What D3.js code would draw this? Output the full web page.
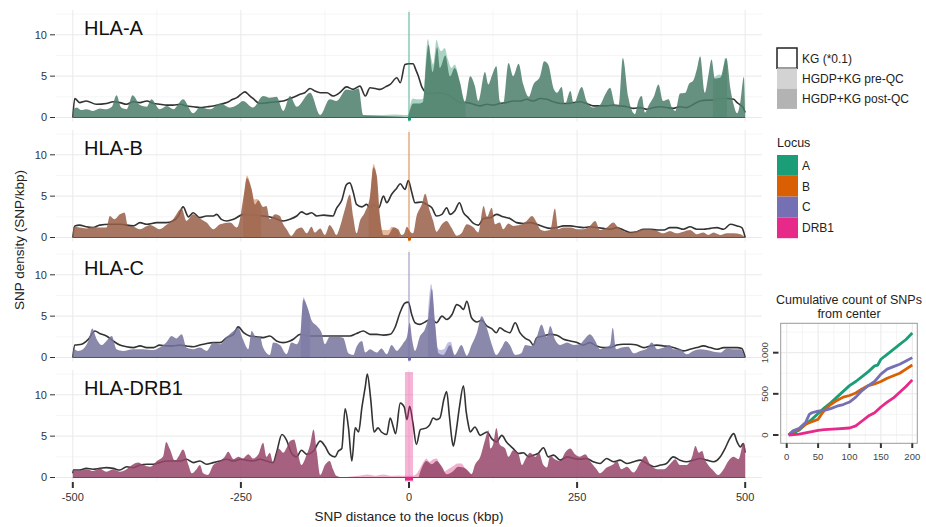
<!DOCTYPE html>
<html><head><meta charset="utf-8">
<script src="https://cdn.jsdelivr.net/npm/d3@7"></script>
<style>
body{margin:0;background:#fff;}
svg{display:block;font-family:"Liberation Sans",Arial,sans-serif;}
</style></head>
<body><svg id="c" width="926" height="527"></svg>
<script>
// ---------- data ----------
const loci = ["A", "B", "C", "DRB1"];
const panelTitles = ["HLA-A", "HLA-B", "HLA-C", "HLA-DRB1"];
const locusColors = ["#1B9E77", "#D95F02", "#7570B3", "#E7298A"];
const geneSpans = [[-1.5, 1.5], [-1.5, 1.5], [-1.5, 1.5], [-6, 6]];
const xTicks = [-500, -250, 0, 250, 500];
const yTicks = [0, 5, 10];

// KG (*0.1) density lines  [kbp, SNP/kbp]
const kgA = [[-500,0],[-497,2.3],[-490,1.8],[-480,2.0],[-465,1.6],[-450,1.7],[-440,1.9],[-430,1.8],[-420,1.6],[-410,1.9],[-400,1.8],[-390,2.0],[-380,1.7],[-371,1.6],[-360,1.5],[-351,1.5],[-340,1.6],[-331,1.4],[-320,1.3],[-311,1.2],[-300,1.3],[-291,1.4],[-280,1.6],[-271,1.8],[-262,2.2],[-256,2.4],[-250,2.8],[-244,3.1],[-238,2.7],[-232,2.3],[-222,1.7],[-210,1.8],[-197,1.9],[-187,2.0],[-177,2.3],[-170,2.5],[-162,2.8],[-155,3.0],[-147,3.5],[-140,3.2],[-132,3.0],[-122,3.0],[-113,2.6],[-103,3.0],[-93,3.7],[-83,3.4],[-73,3.8],[-65,2.6],[-58,3.6],[-50,3.5],[-43,3.4],[-35,3.7],[-28,4.0],[-18,4.8],[-13,4.2],[-6,6.4],[0,6.5],[6,6.5],[10,5.8],[14,5.0],[19,3.7],[26,3.0],[31,2.9],[36,2.9],[46,3.0],[56,2.8],[66,2.3],[76,1.8],[86,1.8],[96,1.6],[106,1.4],[116,1.6],[125,1.5],[135,1.7],[145,1.8],[155,2.0],[165,2.0],[175,2.2],[185,2.0],[195,2.3],[205,2.2],[215,1.9],[225,1.7],[235,1.7],[245,1.8],[254,1.9],[264,1.7],[274,1.4],[284,1.4],[294,1.4],[304,1.5],[314,1.4],[324,1.3],[334,1.1],[344,1.2],[354,1.0],[364,1.2],[374,1.3],[383,1.2],[393,1.1],[403,1.3],[413,1.2],[423,1.6],[433,2.0],[443,2.1],[453,2.1],[463,2.3],[473,2.3],[483,2.2],[488,1.8],[493,1.5],[497,1.2],[500,0.6]];
const kgB = [[-500,0],[-497,1.4],[-490,1.5],[-480,1.3],[-470,1.2],[-460,1.5],[-445,1.6],[-430,1.6],[-410,1.4],[-400,1.8],[-390,1.6],[-375,1.8],[-361,1.8],[-351,2.0],[-343,2.6],[-336,3.7],[-328,2.5],[-321,3.0],[-311,2.4],[-301,2.6],[-291,2.6],[-286,2.8],[-279,2.2],[-271,2.0],[-261,2.2],[-246,2.8],[-232,2.7],[-217,2.6],[-202,2.4],[-187,2.0],[-177,2.2],[-167,2.6],[-160,3.1],[-152,2.8],[-145,3.0],[-137,2.6],[-127,2.7],[-113,2.6],[-108,3.5],[-100,4.5],[-93,6.4],[-88,6.6],[-83,5.5],[-78,4.0],[-70,3.7],[-63,4.0],[-58,3.6],[-53,4.0],[-45,3.6],[-38,5.0],[-33,4.2],[-26,5.2],[-18,6.0],[-13,6.5],[-6,5.8],[-1,6.9],[4,5.5],[9,4.2],[19,4.3],[26,4.0],[34,3.6],[41,2.6],[49,2.8],[56,3.6],[61,2.8],[68,3.2],[75,4.2],[81,3.0],[88,2.4],[96,1.7],[103,1.5],[111,2.3],[121,2.4],[130,2.8],[140,2.5],[150,2.3],[160,1.8],[170,1.7],[180,1.8],[190,1.6],[200,1.3],[210,1.1],[220,1.2],[230,1.4],[240,1.4],[250,1.3],[259,1.2],[269,1.3],[279,1.2],[289,1.1],[299,1.0],[309,1.2],[319,0.9],[329,0.6],[339,0.7],[349,1.0],[359,1.0],[369,0.9],[379,0.9],[388,1.2],[398,1.2],[408,1.0],[418,1.3],[428,1.0],[438,1.0],[448,1.1],[458,1.2],[468,1.0],[478,1.6],[488,1.4],[495,1.2],[500,0]];
const kgC = [[-500,0],[-497,1.5],[-487,1.6],[-477,2.2],[-467,3.2],[-460,2.9],[-450,2.6],[-440,2.0],[-430,1.5],[-420,1.3],[-410,1.2],[-400,1.4],[-390,1.2],[-380,1.2],[-371,1.5],[-361,1.4],[-351,1.4],[-341,1.5],[-331,1.4],[-321,1.3],[-311,1.5],[-301,1.7],[-291,1.8],[-281,1.8],[-271,2.4],[-261,2.8],[-254,3.7],[-246,3.0],[-237,2.6],[-227,2.5],[-217,2.4],[-207,2.6],[-197,2.0],[-187,1.8],[-177,2.0],[-172,2.2],[-162,2.8],[-150,2.6],[-135,2.6],[-120,2.6],[-105,2.6],[-88,2.6],[-78,2.9],[-68,3.2],[-58,2.8],[-48,2.8],[-38,2.7],[-28,2.8],[-21,3.6],[-13,5.5],[-6,6.6],[-1,6.7],[4,5.2],[9,4.2],[16,4.0],[24,4.3],[31,4.6],[36,4.5],[41,4.2],[49,5.0],[56,4.6],[64,5.2],[71,6.4],[76,6.2],[81,5.8],[86,6.8],[93,4.8],[101,4.3],[108,4.5],[116,3.8],[123,3.5],[130,3.0],[135,3.6],[143,3.2],[150,3.0],[158,4.2],[165,3.0],[173,2.3],[180,2.0],[185,1.5],[190,2.4],[200,2.6],[210,2.8],[220,2.7],[230,2.2],[240,2.0],[250,1.8],[259,1.5],[269,1.8],[279,1.4],[289,1.2],[299,1.2],[309,1.5],[319,1.6],[329,1.6],[339,1.5],[349,1.2],[359,1.4],[369,1.5],[379,1.4],[388,1.3],[398,1.1],[408,0.8],[418,1.0],[428,1.2],[438,1.4],[448,1.2],[458,1.0],[468,1.2],[478,1.2],[488,1.2],[495,1.1],[500,0]];
const kgDRB1 = [[-500,0.5],[-499,0.9],[-490,0.9],[-480,1.1],[-470,1.0],[-460,1.1],[-450,1.2],[-440,1.1],[-430,0.9],[-420,1.3],[-410,1.2],[-400,1.5],[-390,1.6],[-380,1.6],[-371,1.8],[-361,2.0],[-351,2.0],[-341,2.0],[-331,2.2],[-321,1.8],[-311,2.0],[-301,1.6],[-291,1.8],[-281,2.0],[-271,2.2],[-261,2.0],[-251,2.2],[-242,2.1],[-232,2.0],[-222,2.2],[-212,2.0],[-202,1.8],[-197,3.0],[-189,5.2],[-182,4.5],[-175,3.0],[-167,2.5],[-160,3.3],[-152,2.8],[-142,3.2],[-132,4.4],[-125,3.8],[-118,2.8],[-110,2.5],[-105,3.2],[-100,3.5],[-95,8.3],[-90,6.0],[-85,2.0],[-80,6.0],[-75,5.5],[-70,8.5],[-65,11.0],[-62,12.5],[-57,9.5],[-52,5.5],[-46,6.0],[-41,5.5],[-33,5.2],[-28,7.2],[-23,6.0],[-20,5.3],[-13,9.0],[-7,8.5],[-3,7.0],[1,8.6],[6,6.5],[11,4.0],[17,5.8],[26,6.0],[31,6.4],[36,7.2],[41,7.0],[46,7.2],[52,9.5],[56,10.4],[60,7.5],[64,4.5],[66,3.8],[70,5.5],[75,8.5],[81,11.1],[85,8.0],[88,6.5],[91,5.5],[98,6.1],[106,5.1],[116,5.5],[123,4.7],[130,4.3],[138,5.1],[145,4.3],[155,3.5],[163,2.9],[170,3.0],[178,2.5],[185,2.7],[192,2.9],[200,3.6],[207,2.5],[215,2.7],[225,2.1],[235,2.5],[245,2.3],[254,2.2],[264,2.3],[274,1.9],[284,1.7],[294,2.3],[304,1.9],[314,2.1],[324,1.7],[334,1.9],[344,2.1],[354,1.7],[364,1.3],[374,1.5],[383,1.7],[393,2.5],[403,2.1],[413,1.9],[423,2.1],[433,2.3],[443,2.1],[453,1.9],[463,2.5],[470,3.5],[477,4.7],[483,5.3],[488,4.3],[493,3.7],[497,4.1],[500,3.0]];

// HGDP+KG post-QC density
const postA = [[-500,0],[-499,1.0],[-494,1.2],[-488,0.9],[-480,1.0],[-470,0.8],[-460,1.1],[-450,1.0],[-442,1.3],[-435,2.7],[-428,1.2],[-420,1.0],[-411,2.7],[-400,1.5],[-390,1.3],[-383,2.2],[-371,1.0],[-360,1.4],[-350,1.0],[-345,1.4],[-336,2.2],[-321,0.5],[-311,1.2],[-296,1.0],[-281,1.7],[-266,1.2],[-256,1.5],[-247,2.0],[-232,1.2],[-217,2.6],[-207,2.4],[-197,2.5],[-187,0.8],[-177,2.6],[-167,1.3],[-147,3.0],[-132,0.3],[-118,2.2],[-108,2.0],[-93,3.4],[-83,3.3],[-75,3.5],[-68,0.3],[-50,0.2],[-30,0.15],[-10,0.1],[-2,0],[1,0.8],[6,1.7],[16,1.7],[21,1.9],[24,5.0],[29,8.8],[35,5.5],[42,8.5],[46,6.0],[54,7.5],[61,5.0],[68,6.0],[76,4.2],[83,1.9],[91,5.0],[98,3.8],[103,2.0],[113,5.5],[118,4.0],[123,5.0],[130,6.2],[135,2.0],[140,1.6],[148,6.6],[155,5.0],[163,6.5],[170,4.0],[178,2.5],[185,4.0],[195,5.0],[201,6.8],[207,6.4],[215,3.5],[220,3.0],[227,3.7],[232,1.6],[240,3.2],[245,1.7],[257,3.7],[264,2.0],[274,1.2],[284,1.5],[292,2.8],[299,3.6],[307,1.5],[312,1.5],[318,7.2],[326,2.5],[334,0.5],[336,0.4],[341,2.0],[346,2.6],[351,0.6],[356,1.4],[364,2.5],[371,4.0],[378,2.0],[386,2.2],[391,1.2],[396,0.8],[403,2.9],[411,3.0],[416,4.0],[423,4.5],[428,5.8],[433,7.4],[440,3.0],[445,5.0],[450,7.0],[455,4.7],[463,4.8],[472,7.2],[478,3.5],[483,1.5],[488,0.5],[493,2.0],[498,4.9],[500,0.3]];
const postB = [[-500,0],[-499,1.3],[-490,1.2],[-480,1.1],[-470,1.3],[-460,1.2],[-450,1.2],[-445,2.6],[-438,2.2],[-430,2.8],[-423,3.0],[-418,1.4],[-410,1.3],[-400,1.0],[-385,1.5],[-371,1.0],[-361,1.5],[-351,2.2],[-338,3.5],[-331,2.0],[-321,2.8],[-311,2.3],[-301,1.8],[-291,1.0],[-281,1.6],[-266,1.8],[-256,1.2],[-252,2.0],[-246,5.0],[-241,7.2],[-234,5.8],[-229,4.0],[-224,4.5],[-217,3.7],[-212,3.8],[-207,2.2],[-199,2.8],[-192,2.6],[-187,1.6],[-182,1.0],[-175,0.2],[-167,1.0],[-160,1.2],[-152,0.5],[-145,1.3],[-140,0.6],[-132,1.1],[-125,0.3],[-118,1.5],[-113,1.0],[-108,0.3],[-103,1.2],[-95,3.5],[-88,5.2],[-83,2.5],[-78,0.5],[-73,2.0],[-66,3.0],[-58,5.0],[-53,8.5],[-48,7.5],[-43,2.5],[-38,0.3],[-31,0.3],[-23,1.2],[-16,1.0],[-11,0.3],[-8,0.4],[-3,1.3],[1,0.8],[6,0.5],[11,2.5],[19,4.0],[24,5.3],[31,3.2],[36,2.0],[41,0.7],[49,1.6],[56,2.0],[63,1.2],[71,0.2],[78,0.5],[86,1.6],[96,1.2],[103,0.6],[111,3.8],[116,2.5],[123,3.6],[128,1.6],[135,1.8],[140,1.0],[148,1.7],[155,1.4],[165,1.5],[175,2.0],[183,2.6],[190,1.8],[195,1.0],[202,0.8],[210,0.9],[217,3.5],[222,1.0],[230,1.2],[240,1.2],[250,1.0],[259,1.0],[269,1.4],[277,2.0],[284,0.9],[294,1.2],[304,1.8],[309,1.4],[319,0.8],[329,0.6],[339,0.8],[349,1.0],[359,1.0],[369,0.8],[378,0.5],[388,0.8],[398,0.5],[408,0.7],[418,0.9],[428,0.4],[438,0.6],[445,0.3],[453,0.6],[463,0.3],[473,0.5],[483,0.5],[493,0.4],[500,0]];
const postC = [[-500,0],[-499,1.0],[-492,0.8],[-485,1.0],[-477,2.0],[-471,3.5],[-465,2.3],[-457,1.5],[-450,2.0],[-442,2.6],[-435,1.0],[-425,0.8],[-410,1.0],[-395,1.0],[-380,0.9],[-371,1.2],[-361,1.8],[-353,2.6],[-346,2.3],[-338,2.8],[-331,1.2],[-321,1.0],[-311,1.2],[-301,0.8],[-291,1.8],[-281,1.6],[-271,2.5],[-261,3.2],[-254,3.6],[-247,2.2],[-239,1.0],[-234,3.2],[-227,2.4],[-222,2.6],[-217,1.2],[-207,0.3],[-202,1.8],[-192,1.5],[-182,0.4],[-175,1.8],[-167,1.6],[-162,2.5],[-157,7.0],[-150,5.8],[-145,4.5],[-137,3.8],[-130,3.0],[-125,1.6],[-118,2.5],[-108,2.5],[-98,2.4],[-90,0.5],[-83,0.3],[-78,1.3],[-70,2.0],[-65,0.6],[-58,1.0],[-48,0.6],[-41,1.1],[-33,0.4],[-26,1.5],[-18,0.8],[-13,1.2],[-8,1.8],[-3,2.5],[1,4.2],[5,2.0],[9,0.8],[16,2.5],[24,3.5],[29,5.0],[34,8.3],[39,4.0],[44,0.5],[51,0.3],[61,1.5],[68,0.3],[78,1.5],[86,0.2],[93,1.5],[101,3.0],[108,5.0],[116,3.5],[123,1.6],[130,0.3],[138,1.2],[144,2.0],[150,1.5],[158,0.3],[167,0.5],[173,1.5],[182,1.4],[190,2.5],[197,4.0],[205,2.5],[210,3.8],[217,2.2],[225,1.5],[235,1.8],[245,1.5],[254,1.6],[262,2.3],[269,2.8],[277,2.0],[284,1.0],[292,1.2],[299,1.5],[303,3.6],[308,1.0],[316,1.2],[326,1.3],[334,0.5],[344,0.8],[354,1.1],[361,1.8],[369,1.0],[379,1.2],[388,1.5],[393,1.0],[403,1.0],[413,0.4],[423,0.8],[433,1.0],[443,0.9],[453,0.7],[463,0.6],[473,1.1],[483,1.0],[493,1.0],[500,0]];
const postDRB1 = [[-500,0.4],[-499,1.0],[-490,0.8],[-480,1.0],[-470,0.8],[-460,1.1],[-450,0.7],[-440,1.0],[-430,0.7],[-420,1.0],[-410,1.6],[-403,1.8],[-395,1.5],[-385,1.3],[-375,2.0],[-366,2.5],[-361,4.3],[-356,3.5],[-348,2.0],[-343,2.5],[-336,3.4],[-328,1.5],[-323,0.5],[-316,1.0],[-311,1.5],[-306,0.5],[-299,0.3],[-291,1.5],[-281,2.0],[-274,2.5],[-269,3.1],[-261,2.2],[-254,2.5],[-247,2.3],[-239,2.8],[-232,2.3],[-224,2.8],[-217,4.2],[-212,2.5],[-207,3.0],[-202,1.8],[-194,3.5],[-187,3.0],[-182,3.6],[-177,4.4],[-171,4.6],[-165,2.8],[-160,1.5],[-152,2.8],[-147,4.0],[-142,5.8],[-137,3.0],[-132,0.3],[-125,1.5],[-118,2.0],[-113,1.0],[-108,0.2],[-98,0],[14,0],[16,0.5],[26,2.0],[34,1.6],[41,2.0],[49,1.3],[56,0.4],[66,0.8],[73,1.3],[81,1.2],[88,0.8],[93,0.4],[98,1.5],[106,2.5],[113,4.5],[118,5.7],[121,3.5],[125,4.0],[130,6.0],[135,4.0],[143,3.5],[148,2.5],[155,3.3],[163,2.8],[168,1.5],[173,2.2],[180,3.0],[188,2.5],[193,3.0],[200,1.5],[205,1.2],[210,2.6],[217,2.2],[225,2.0],[232,3.0],[240,3.5],[247,2.8],[254,2.5],[262,2.8],[269,2.0],[279,1.0],[284,0.5],[294,1.2],[304,1.6],[309,2.0],[316,1.0],[324,1.3],[334,0.6],[344,1.8],[351,2.6],[359,1.5],[369,1.0],[379,1.0],[388,1.6],[396,2.2],[403,1.5],[413,1.5],[421,2.5],[426,3.8],[431,3.0],[436,3.2],[440,2.2],[445,1.5],[453,0.8],[460,0.3],[468,1.0],[475,2.0],[483,2.5],[490,2.2],[498,4.2],[500,3.5]];

// HGDP+KG pre-QC density (segments where it rises above post-QC)
const preA = [
  [[-70,0],[-60,0.3],[-40,0.3],[-20,0.35],[-8,0.3],[-2,0.3],[0,0.6],[3,1.9],[6,2.3],[12,2.2],[18,2.2],[22,2.4],[24,5.6],[28,9.5],[33,7.2],[36,6.4],[41,9.4],[44,8.6],[48,8.0],[53,8.4],[58,7.0],[63,6.0],[68,6.4],[74,4.8],[80,2.5],[84,1.8]],
  [[452,4.6],[456,5.0],[462,5.2],[466,5.0],[470,7.2],[473,6.8]]
];
const preB = [
  [[-247,2.0],[-241,7.5],[-236,6.5],[-230,4.6],[-226,4.7],[-220,3.6]],
  [[-60,3.0],[-56,6.2],[-53,8.9],[-49,7.9],[-45,3.2],[-40,0.9],[-35,0.9],[-30,0.9],[-26,1.3],[-20,1.2],[-15,0.5]]
];
const preC = [
  [[-161,2.5],[-157,7.3],[-152,6.3],[-147,5.0]],
  [[28,5.0],[33,8.9],[38,4.6],[42,1.2],[46,0.9],[52,1.0],[58,1.8],[62,1.9],[66,0.6]]
];
const preDRB1 = [
  [[-100,0],[-90,0.1],[-75,0.2],[-62,0.35],[-50,0.2],[-38,0.35],[-28,0.2],[-15,0.25],[-5,0.2],[5,0.2],[10,0.35],[15,0.9],[21,1.8],[26,2.3],[30,1.9],[36,2.2],[41,2.3],[46,1.5],[52,0.7],[58,1.0],[66,1.4],[72,1.7],[78,1.7],[84,1.0],[90,0.6],[95,0.3]]
];

const kgSeries = [kgA, kgB, kgC, kgDRB1];
const postSeries = [postA, postB, postC, postDRB1];
const preSeries = [preA, preB, preC, preDRB1];
const postFills = ["#4b7c69", "#985f48", "#76739c", "#954568"];
const preFills = ["#9acdb9", "#e5ad8c", "#b8b6de", "#eea2c3"];

// legend
const legendLayers = ["KG (*0.1)", "HGDP+KG pre-QC", "HGDP+KG post-QC"];
const legendLayerFills = ["#ffffff", "#d3d3d3", "#b3b3b3"];

// inset: cumulative count of SNPs from center
const insetXTicks = [0, 50, 100, 150, 200];
const insetYTicks = [0, 500, 1000];
const cumA = [[3,0],[10,20],[20,60],[30,130],[40,190],[50,260],[60,330],[70,390],[80,460],[90,530],[100,600],[110,650],[120,710],[130,770],[140,840],[145,850],[150,920],[160,980],[170,1040],[180,1100],[190,1160],[200,1240]];
const cumB = [[3,0],[10,40],[20,70],[30,130],[40,160],[50,190],[55,250],[60,300],[70,370],[80,420],[90,460],[100,480],[110,510],[120,560],[130,600],[140,620],[150,650],[160,690],[170,720],[180,750],[190,800],[200,850]];
const cumC = [[3,0],[10,50],[20,80],[30,150],[36,250],[40,270],[50,290],[60,300],[70,320],[80,350],[90,370],[100,400],[110,460],[120,540],[130,600],[140,650],[150,740],[160,800],[170,830],[180,860],[190,900],[200,940]];
const cumDRB1 = [[3,0],[20,10],[30,25],[40,40],[50,55],[60,65],[80,75],[100,85],[110,110],[120,170],[130,230],[140,270],[150,340],[160,400],[170,450],[180,520],[190,590],[200,670]];
const cumSeries = [cumA, cumB, cumC, cumDRB1];

// ---------- drawing ----------
const svg = d3.select("#c");
const FONT = "'Liberation Sans', Arial, sans-serif";
const x = d3.scaleLinear().domain([-525, 525]).range([56, 762]);
const panelZero = [117.5, 237.5, 357.5, 477.5];

svg.append("defs").selectAll("clipPath").data(panelZero).join("clipPath")
  .attr("id", (d, i) => "clip" + i)
  .append("rect").attr("x", 56).attr("y", d => d - 107.5).attr("width", 706).attr("height", 111.5);

loci.forEach((loc, i) => {
  const Z = panelZero[i];
  const y = d3.scaleLinear().domain([0, 13]).range([Z, Z - 107.5]);
  const g = svg.append("g");
  const top = Z - 107.5, bot = Z + 4;
  // minor grid
  g.selectAll(".vm").data([-375, -125, 125, 375]).join("line")
    .attr("x1", d => x(d)).attr("x2", d => x(d)).attr("y1", top).attr("y2", bot)
    .attr("stroke", "#f3f3f3").attr("stroke-width", 0.8);
  g.selectAll(".hm").data([2.5, 7.5, 12.5]).join("line")
    .attr("x1", 56).attr("x2", 762).attr("y1", d => y(d)).attr("y2", d => y(d))
    .attr("stroke", "#f3f3f3").attr("stroke-width", 0.8);
  // major grid
  g.selectAll(".vM").data(xTicks).join("line")
    .attr("x1", d => x(d)).attr("x2", d => x(d)).attr("y1", top).attr("y2", bot)
    .attr("stroke", "#e9e9e9").attr("stroke-width", 1);
  g.selectAll(".hM").data(yTicks).join("line")
    .attr("x1", 56).attr("x2", 762).attr("y1", d => y(d)).attr("y2", d => y(d))
    .attr("stroke", "#e9e9e9").attr("stroke-width", 1);

  const plot = g.append("g").attr("clip-path", `url(#clip${i})`);
  // KG line (under the translucent areas)
  const line = d3.line().curve(d3.curveMonotoneX).x(d => x(d[0])).y(d => y(d[1]));
  plot.append("path").attr("d", line(kgSeries[i]))
    .attr("fill", "none").attr("stroke", "#333").attr("stroke-width", 1.6).attr("stroke-linejoin", "round");
  const area = d3.area().curve(d3.curveMonotoneX).x(d => x(d[0])).y0(y(0)).y1(d => y(d[1]));
  preSeries[i].forEach(seg => {
    plot.append("path").attr("d", area(seg)).attr("fill", preFills[i]).attr("fill-opacity", 0.85);
  });
  plot.append("path").attr("d", area(postSeries[i])).attr("fill", postFills[i]).attr("fill-opacity", 0.85);
  // baseline
  plot.append("line").attr("x1", x(-500)).attr("x2", x(500)).attr("y1", y(0)).attr("y2", y(0))
    .attr("stroke", "#555").attr("stroke-width", 1.2);
  // gene marker
  const gs = geneSpans[i];
  g.append("rect").attr("x", x(gs[0])).attr("width", x(gs[1]) - x(gs[0]))
    .attr("y", top + 2).attr("height", bot - top - 2)
    .attr("fill", locusColors[i]).attr("fill-opacity", 0.35);
  g.append("rect").attr("x", x(gs[0])).attr("width", Math.max(3, x(gs[1]) - x(gs[0])))
    .attr("y", y(0)).attr("height", 3).attr("fill", locusColors[i]);

  // y axis
  g.selectAll(".yt").data(yTicks).join("line")
    .attr("x1", 50).attr("x2", 55).attr("y1", d => y(d)).attr("y2", d => y(d))
    .attr("stroke", "#333").attr("stroke-width", 1);
  g.selectAll(".yl").data(yTicks).join("text")
    .attr("x", 47).attr("y", d => y(d)).attr("dy", "0.35em").attr("text-anchor", "end")
    .attr("font-size", 11).attr("fill", "#333").attr("font-family", FONT).text(d => d);
  // title
  g.append("text").attr("x", 84).attr("y", Z - 82.5).attr("font-size", 20)
    .attr("fill", "#111").attr("font-family", FONT).text(panelTitles[i]);
});

// x axis
svg.selectAll(".xt").data(xTicks).join("line")
  .attr("x1", d => x(d)).attr("x2", d => x(d)).attr("y1", 482).attr("y2", 488)
  .attr("stroke", "#333").attr("stroke-width", 2);
svg.selectAll(".xl").data(xTicks).join("text")
  .attr("x", d => x(d)).attr("y", 501).attr("text-anchor", "middle")
  .attr("font-size", 11).attr("fill", "#333").attr("font-family", FONT).text(d => d);
svg.append("text").attr("x", 409).attr("y", 521).attr("text-anchor", "middle")
  .attr("font-size", 13.5).attr("fill", "#222").attr("font-family", FONT).text("SNP distance to the locus (kbp)");
svg.append("text").attr("transform", "translate(24,240) rotate(-90)").attr("text-anchor", "middle")
  .attr("font-size", 13.5).attr("fill", "#222").attr("font-family", FONT).text("SNP density (SNP/kbp)");

// legend: layers
const lg = svg.append("g");
legendLayers.forEach((t, k) => {
  const yy = 48 + k * 20.3;
  lg.append("rect").attr("x", 777).attr("y", yy).attr("width", 20).attr("height", 20.3)
    .attr("fill", legendLayerFills[k])
    .attr("stroke", k === 0 ? "#222" : "none").attr("stroke-width", 1.5);
  lg.append("text").attr("x", 802).attr("y", yy + 10.5).attr("dy", "0.35em")
    .attr("font-size", 12).attr("fill", "#222").attr("font-family", FONT).text(t);
});
lg.append("text").attr("x", 777).attr("y", 143).attr("dy", "0.35em")
  .attr("font-size", 12.5).attr("fill", "#222").attr("font-family", FONT).text("Locus");
loci.forEach((t, k) => {
  const yy = 155 + k * 20.8;
  lg.append("rect").attr("x", 777).attr("y", yy).attr("width", 21).attr("height", 20.8).attr("fill", locusColors[k]);
  lg.append("text").attr("x", 802).attr("y", yy + 10.5).attr("dy", "0.35em")
    .attr("font-size", 12).attr("fill", "#222").attr("font-family", FONT).text(t);
});

// inset
const ix = d3.scaleLinear().domain([-9.6, 208]).range([780.7, 917.3]);
const iy = d3.scaleLinear().domain([-101, 1357]).range([443.3, 323.3]);
const ig = svg.append("g");
ig.append("text").attr("x", 849).attr("y", 304).attr("text-anchor", "middle")
  .attr("font-size", 12.5).attr("fill", "#222").attr("font-family", FONT).text("Cumulative count of SNPs");
ig.append("text").attr("x", 849).attr("y", 318).attr("text-anchor", "middle")
  .attr("font-size", 12.5).attr("fill", "#222").attr("font-family", FONT).text("from center");
ig.selectAll(".ivm").data([25, 75, 125, 175]).join("line")
  .attr("x1", d => ix(d)).attr("x2", d => ix(d)).attr("y1", 323.3).attr("y2", 443.3)
  .attr("stroke", "#f3f3f3").attr("stroke-width", 0.8);
ig.selectAll(".ihm").data([250, 750, 1250]).join("line")
  .attr("y1", d => iy(d)).attr("y2", d => iy(d)).attr("x1", 780.7).attr("x2", 917.3)
  .attr("stroke", "#f3f3f3").attr("stroke-width", 0.8);
ig.selectAll(".ivM").data(insetXTicks).join("line")
  .attr("x1", d => ix(d)).attr("x2", d => ix(d)).attr("y1", 323.3).attr("y2", 443.3)
  .attr("stroke", "#e8e8e8").attr("stroke-width", 1);
ig.selectAll(".ihM").data(insetYTicks).join("line")
  .attr("y1", d => iy(d)).attr("y2", d => iy(d)).attr("x1", 780.7).attr("x2", 917.3)
  .attr("stroke", "#e8e8e8").attr("stroke-width", 1);
const iline = d3.line().x(d => ix(d[0])).y(d => iy(d[1]));
cumSeries.forEach((s, k) => {
  ig.append("path").attr("d", iline(s)).attr("fill", "none")
    .attr("stroke", locusColors[k]).attr("stroke-width", 2.8).attr("stroke-linejoin", "round");
});
ig.append("rect").attr("x", 780.7).attr("y", 323.3).attr("width", 136.6).attr("height", 120)
  .attr("fill", "none").attr("stroke", "#999").attr("stroke-width", 1);
ig.selectAll(".ixt").data(insetXTicks).join("line")
  .attr("x1", d => ix(d)).attr("x2", d => ix(d)).attr("y1", 443.3).attr("y2", 448)
  .attr("stroke", "#333").attr("stroke-width", 2);
ig.selectAll(".ixl").data(insetXTicks).join("text")
  .attr("x", d => ix(d)).attr("y", 460).attr("text-anchor", "middle")
  .attr("font-size", 9.5).attr("fill", "#444").attr("font-family", FONT).text(d => d);
ig.selectAll(".iyt").data(insetYTicks).join("line")
  .attr("x1", 773).attr("x2", 778.5).attr("y1", d => iy(d)).attr("y2", d => iy(d))
  .attr("stroke", "#333").attr("stroke-width", 2);
ig.selectAll(".iyl").data(insetYTicks).join("text")
  .attr("transform", d => `translate(768,${iy(d)}) rotate(-90)`).attr("text-anchor", "middle")
  .attr("font-size", 9.5).attr("fill", "#444").attr("font-family", FONT).text(d => d);
</script>
</body></html>
